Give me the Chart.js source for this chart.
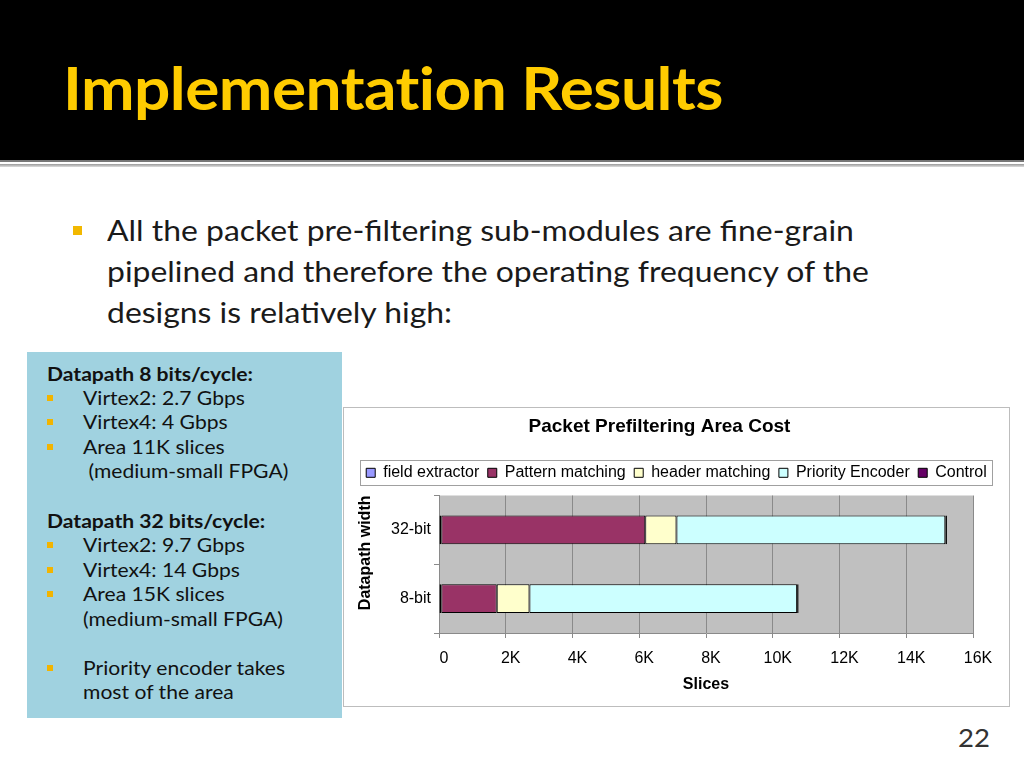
<!DOCTYPE html>
<html>
<head>
<meta charset="utf-8">
<script src="https://cdn.jsdelivr.net/npm/chart.js@4"></script>
<style>
  html, body { margin: 0; padding: 0; }
  body { width: 1024px; height: 768px; position: relative; overflow: hidden; background: #fff; font-family: Lato, "Open Sans", sans-serif; }
  .header { position: absolute; left: 0; top: 0; width: 1024px; height: 160px; background: #000; }
  .header h1 { position: absolute; left: 63px; top: 52px; margin: 0; font: 700 59px Lato, sans-serif; color: #FFCC00; white-space: nowrap; letter-spacing: -0.5px; transform: scaleX(1.085); transform-origin: 0 0; }
  .rule1 { position: absolute; left: 0; top: 160px; width: 1024px; height: 2px; background: #777; }
  .rule2 { position: absolute; left: 0; top: 164px; width: 1024px; height: 3px; background: linear-gradient(#999, #ddd); }
  .main { position: absolute; left: 107px; top: 210px; font: 28px Lato, sans-serif; line-height: 41px; color: #1a1a1a; white-space: nowrap; transform: scaleX(1.14); transform-origin: 0 0; }
  .sq { position: absolute; left: 73px; top: 226px; width: 9px; height: 9px; background: #F2B800; }
  .note { position: absolute; left: 27px; top: 352px; width: 315px; height: 366px; background: #A0D2E0; color: #111; }
  .note .txt { position: absolute; left: 0; top: 0; font: 19px Lato, sans-serif; transform: scaleX(1.11); transform-origin: 0 0; }
  .note .ln { position: absolute; left: 50.5px; white-space: nowrap; }
  .note .hd { position: absolute; left: 18px; font-weight: 700; white-space: nowrap; }
  .note .b { position: absolute; left: 20px; width: 6px; height: 6px; background: #F2B400; }
  .chartbox { position: absolute; left: 343px; top: 407px; width: 665px; height: 298px; border: 1px solid #bdbdbd; background: #fff; }
  .pnum { position: absolute; left: 958px; top: 722px; font: 25px Lato, sans-serif; color: #333; transform: scaleX(1.1); transform-origin: 0 0; }
</style>
</head>
<body>
<div class="header"><h1>Implementation Results</h1></div>
<div class="rule1"></div>
<div class="rule2"></div>

<span class="sq"></span>
<div class="main">All the packet pre-filtering sub-modules are fine-grain<br>pipelined and therefore the operating frequency of the<br>designs is relatively high:</div>

<div class="note">
  <div class="b" style="top:43px"></div>
  <div class="b" style="top:67px"></div>
  <div class="b" style="top:92px"></div>
  <div class="b" style="top:190px"></div>
  <div class="b" style="top:215px"></div>
  <div class="b" style="top:239px"></div>
  <div class="b" style="top:313px"></div>
  <div class="txt">
    <div class="hd" style="top:10px">Datapath 8 bits/cycle:</div>
    <div class="ln" style="top:34px">Virtex2: 2.7 Gbps</div>
    <div class="ln" style="top:58px">Virtex4: 4 Gbps</div>
    <div class="ln" style="top:83px">Area 11K slices</div>
    <div class="ln" style="top:107px">&nbsp;(medium-small FPGA)</div>
    <div class="hd" style="top:157px">Datapath 32 bits/cycle:</div>
    <div class="ln" style="top:181px">Virtex2: 9.7 Gbps</div>
    <div class="ln" style="top:206px">Virtex4: 14 Gbps</div>
    <div class="ln" style="top:230px">Area 15K slices</div>
    <div class="ln" style="top:255px">(medium-small FPGA)</div>
    <div class="ln" style="top:304px">Priority encoder takes</div>
    <div class="ln" style="top:328px">most of the area</div>
  </div>
</div>

<div class="chartbox"><canvas id="areaChart" width="665" height="298"></canvas></div>
<div class="pnum">22</div>

<script>
// データ（図から読み取った値, 単位: slices）
const categories = ['32-bit', '8-bit'];
const seriesNames = ['field extractor', 'Pattern matching', 'header matching', 'Priority Encoder', 'Control'];
const fieldExtractor = [70, 70];
const patternMatching = [6110, 1660];
const headerMatching = [935, 980];
const priorityEncoder = [8055, 8020];
const control = [50, 45];
const xTickLabels = ['0', '2K', '4K', '6K', '8K', '10K', '12K', '14K', '16K'];

const seriesColors = ['#9999FF', '#993366', '#FFFFCC', '#CCFFFF', '#660066'];
const seriesValues = [fieldExtractor, patternMatching, headerMatching, priorityEncoder, control];

const chartFont = 'Liberation Sans, Arial';

// プロット領域の灰色背景
const plotBg = {
  id: 'plotBg',
  beforeDraw(chart) {
    const { ctx, chartArea: a } = chart;
    ctx.save();
    ctx.fillStyle = '#C0C0C0';
    ctx.fillRect(a.left, a.top, a.right - a.left, a.bottom - a.top);
    ctx.restore();
  }
};

// タイトルを少し左寄せ（元図に合わせる）
const titleShift = {
  id: 'titleShift',
  afterLayout(chart) {
    if (chart.titleBlock) {
      chart.titleBlock.right -= 34;
    }
  }
};

// 凡例の枠線
const legendFrame = {
  id: 'legendFrame',
  afterDraw(chart) {
    const lg = chart.legend;
    if (!lg || !lg.legendHitBoxes || !lg.legendHitBoxes.length) return;
    const boxes = lg.legendHitBoxes;
    const left = Math.min(...boxes.map((b) => b.left)) - 6;
    const right = Math.max(...boxes.map((b) => b.left + b.width)) + 5;
    const cy = boxes[0].top + boxes[0].height / 2;
    const ctx = chart.ctx;
    ctx.save();
    ctx.strokeStyle = '#A0A0A0';
    ctx.lineWidth = 1;
    ctx.strokeRect(Math.round(left) + 0.5, Math.round(cy - 12.5) + 0.5, Math.round(right - left), 25);
    ctx.restore();
  }
};

new Chart(document.getElementById('areaChart'), {
  type: 'bar',
  data: {
    labels: categories,
    datasets: seriesNames.map((name, i) => ({
      label: name,
      data: seriesValues[i],
      backgroundColor: seriesColors[i],
      borderColor: '#000',
      borderWidth: 1,
      borderSkipped: false,
      barPercentage: 0.42,
      categoryPercentage: 1
    }))
  },
  options: {
    indexAxis: 'y',
    responsive: false,
    animation: false,
    layout: { padding: 0 },
    scales: {
      x: {
        stacked: true,
        min: 0,
        max: 16000,
        afterFit: (s) => { s.height = 73; },
        ticks: {
          stepSize: 2000,
          padding: 11,
          labelOffset: 5,
          color: '#000',
          font: { family: chartFont, size: 16 },
          callback: (v, i) => xTickLabels[i]
        },
        grid: { color: '#8A8A8A', tickLength: 5, tickColor: '#8A8A8A' },
        border: { color: '#8A8A8A' },
        title: {
          display: true,
          text: 'Slices',
          color: '#000',
          padding: { top: 4, bottom: 12 },
          font: { family: chartFont, size: 16, weight: 'bold' }
        }
      },
      y: {
        stacked: true,
        afterFit: (s) => { s.width = 95; },
        ticks: {
          padding: 3,
          color: '#000',
          font: { family: chartFont, size: 16 }
        },
        grid: { offset: true, drawOnChartArea: false, tickLength: 5, color: '#8A8A8A' },
        border: { color: '#8A8A8A' },
        title: {
          display: true,
          text: 'Datapath width',
          align: 'end',
          color: '#000',
          padding: { top: 12, bottom: 4 },
          font: { family: chartFont, size: 16, weight: 'bold' }
        }
      },
      // 右側の余白用（表示なし）
      yRight: {
        type: 'category',
        position: 'right',
        afterFit: (s) => { s.width = 36; },
        ticks: { display: false },
        grid: { display: false },
        border: { display: false }
      }
    },
    plugins: {
      title: {
        display: true,
        text: 'Packet Prefiltering Area Cost',
        color: '#000',
        padding: { top: 7, bottom: 18.5 },
        font: { family: chartFont, size: 19, weight: 'bold' }
      },
      // 凡例とプロットの間の余白
      subtitle: {
        display: true,
        text: '',
        weight: 500,
        padding: { top: 0, bottom: 3.5 },
        font: { size: 1 }
      },
      legend: {
        position: 'top',
        labels: {
          color: '#000',
          boxWidth: 9,
          boxHeight: 9,
          padding: 8.5,
          font: { family: chartFont, size: 16 }
        }
      },
      tooltip: { enabled: false }
    }
  },
  plugins: [plotBg, titleShift, legendFrame]
});
</script>
</body>
</html>
